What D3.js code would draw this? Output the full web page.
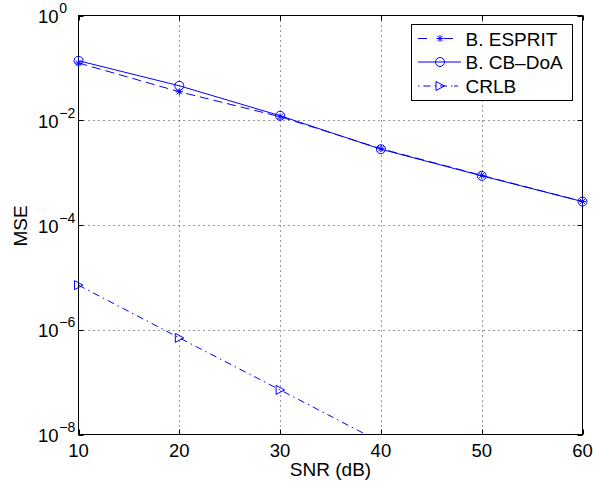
<!DOCTYPE html>
<html><head><meta charset="utf-8">
<script src="https://cdn.jsdelivr.net/npm/d3@7"></script>
<style>
html,body{margin:0;padding:0;background:#fff;}
text{font-family:"Liberation Sans",Arial,Helvetica,sans-serif;fill:#000;}
</style></head><body>
<svg id="chart" width="593" height="486"></svg>
<script>
const snr = [10, 20, 30, 40, 50, 60];
const esprit = [0.124, 0.035, 0.0117, 0.00286, 0.000885, 0.000282];
const cbdoa = [0.137, 0.0455, 0.0122, 0.0028, 0.00087, 0.00028];
const crlb = [7.1e-6, 7.0e-7, 7.1e-8, 7.1e-9, 7.1e-10, 7.1e-11];
const xTicks = [10, 20, 30, 40, 50, 60];
const yTickExp = [0, -2, -4, -6, -8];
const seriesNames = ["B. ESPRIT", "B. CB\u2013DoA", "CRLB"];

const svg = d3.select("#chart");
const L = 78.5, R = 582.5, T = 15.5, B = 434.5;
const x = d3.scaleLinear().domain([10, 60]).range([L, R]);
const y = d3.scaleLog().domain([1e-8, 1]).range([B, T]);
const blue = "#0000ff";

svg.append("rect").attr("width", 593).attr("height", 486).attr("fill", "#fff");
svg.append("defs").append("clipPath").attr("id", "clip")
  .append("rect").attr("x", L).attr("y", T).attr("width", R - L).attr("height", B - T);

// grid
const g = svg.append("g");
xTicks.filter(v => v > 10 && v < 60).forEach(v => {
  g.append("line").attr("x1", Math.round(x(v)) + 0.5).attr("x2", Math.round(x(v)) + 0.5)
    .attr("y1", T).attr("y2", B).attr("stroke", "#000").attr("stroke-width", 1)
    .attr("stroke-dasharray", "1,4").attr("opacity", 0.8);
});
yTickExp.filter(e => e < 0 && e > -8).forEach(e => {
  const yy = Math.round(y(Math.pow(10, e))) + 0.5;
  g.append("line").attr("x1", L).attr("x2", R).attr("y1", yy).attr("y2", yy)
    .attr("stroke", "#000").attr("stroke-width", 1)
    .attr("stroke-dasharray", "1,4").attr("opacity", 0.8);
});

// ticks
xTicks.forEach(v => {
  const xx = Math.round(x(v)) + 0.5;
  g.append("line").attr("x1", xx).attr("x2", xx).attr("y1", B).attr("y2", B - 5).attr("stroke", "#000");
  g.append("line").attr("x1", xx).attr("x2", xx).attr("y1", T).attr("y2", T + 5).attr("stroke", "#000");
  svg.append("text").attr("x", x(v)).attr("y", 457).attr("text-anchor", "middle")
    .attr("font-size", 18.5).text(v);
});
yTickExp.forEach(e => {
  const yy = Math.round(y(Math.pow(10, e))) + 0.5;
  g.append("line").attr("x1", L).attr("x2", L + 5).attr("y1", yy).attr("y2", yy).attr("stroke", "#000");
  g.append("line").attr("x1", R).attr("x2", R - 5).attr("y1", yy).attr("y2", yy).attr("stroke", "#000");
  svg.append("text").attr("x", 58.5).attr("y", y(Math.pow(10, e)) + 7.5).attr("text-anchor", "end")
    .attr("font-size", 18.5).text("10");
  svg.append("text").attr("x", 59.3).attr("y", y(Math.pow(10, e)) - 2.5).attr("text-anchor", "start")
    .attr("font-size", 14).text(e === 0 ? "0" : "\u2212" + Math.abs(e));
});

// axes box
svg.append("rect").attr("x", L).attr("y", T).attr("width", R - L).attr("height", B - T)
  .attr("fill", "none").attr("stroke", "#000").attr("stroke-width", 1);

// labels
svg.append("text").attr("x", (L + R) / 2).attr("y", 476).attr("text-anchor", "middle")
  .attr("font-size", 19).text("SNR (dB)");
svg.append("text").attr("transform", "translate(26.5," + 226 + ") rotate(-90)")
  .attr("text-anchor", "middle").attr("font-size", 19).text("MSE");

// data
const plot = svg.append("g").attr("clip-path", "url(#clip)");
const marks = svg.append("g");
const line = d3.line().x(d => x(d[0])).y(d => y(d[1]));
const styles = [
  {data: esprit, dash: "9,5", marker: "star"},
  {data: cbdoa, dash: null, marker: "circle"},
  {data: crlb, dash: "7,4,1.5,4", marker: "tri"}
];

function drawMarker(sel, type, cx, cy) {
  if (type === "circle") {
    sel.append("circle").attr("cx", cx).attr("cy", cy).attr("r", 4.5)
      .attr("fill", "none").attr("stroke", blue).attr("stroke-width", 1);
  } else if (type === "star") {
    const s = 3.5;
    const p = `M${cx - s},${cy}L${cx + s},${cy}M${cx - s * 0.75},${cy - s * 0.75}L${cx + s * 0.75},${cy + s * 0.75}M${cx - s * 0.75},${cy + s * 0.75}L${cx + s * 0.75},${cy - s * 0.75}M${cx},${cy - s}L${cx},${cy + s}`;
    sel.append("path").attr("d", p).attr("stroke", blue).attr("stroke-width", 1).attr("fill", "none");
  } else {
    const p = `M${cx - 4},${cy - 4.5}L${cx + 4.5},${cy}L${cx - 4},${cy + 4.5}Z`;
    sel.append("path").attr("d", p).attr("stroke", blue).attr("stroke-width", 1).attr("fill", "none");
  }
}

styles.forEach(s => {
  const pts = snr.map((v, i) => [v, s.data[i]]);
  const p = plot.append("path").attr("d", line(pts)).attr("fill", "none")
    .attr("stroke", blue).attr("stroke-width", 1);
  if (s.dash) p.attr("stroke-dasharray", s.dash);
  pts.filter(d => d[1] >= 1e-8 && d[1] <= 1)
    .forEach(d => drawMarker(marks, s.marker, x(d[0]), y(d[1])));
});

// legend
const lg = svg.append("g");
lg.append("rect").attr("x", 411.5).attr("y", 24.5).attr("width", 161).attr("height", 76)
  .attr("fill", "#fff").attr("stroke", "#000").attr("stroke-width", 1);
const rowY = [38.5, 62, 86];
styles.forEach((s, i) => {
  const ly = rowY[i];
  const seg = lg.append("line").attr("x1", 418).attr("x2", 461).attr("y1", ly).attr("y2", ly)
    .attr("stroke", blue).attr("stroke-width", 1);
  if (i === 0) seg.attr("stroke-dasharray", "9,17,9");
  if (i === 2) seg.attr("stroke-dasharray", "1.5,4,7,4,1.5,4,7,4,1.5");
  drawMarker(lg, s.marker, 440, ly);
  lg.append("text").attr("x", 465.5).attr("y", ly + 7).attr("font-size", 19).text(seriesNames[i]);
});
</script>
</body></html>
